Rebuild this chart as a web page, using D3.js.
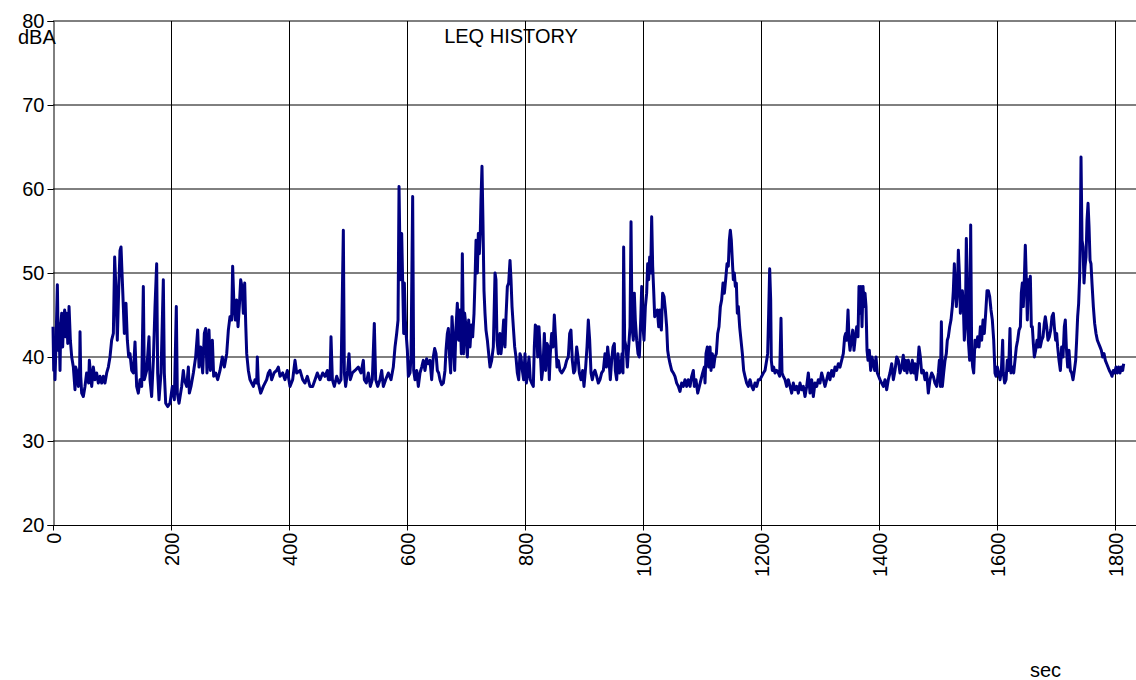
<!DOCTYPE html>
<html>
<head>
<meta charset="utf-8">
<script src="https://cdn.jsdelivr.net/npm/d3@7"></script>
<style>
  html, body { margin: 0; padding: 0; background: #ffffff; }
  svg { display: block; }
  text { font-family: "Liberation Sans", Arial, sans-serif; fill: #000; }
</style>
</head>
<body>
<svg id="chart" width="1136" height="680"></svg>
<script>
// Axis ticks and labels
const yTicks = [20, 30, 40, 50, 60, 70, 80];
const xTicks = [0, 200, 400, 600, 800, 1000, 1200, 1400, 1600, 1800];
const chartTitle = "LEQ HISTORY";
const yUnit = "dBA";
const xUnit = "sec";

// Sound level readings: [time in sec, Leq in dBA]
const leqHistory = [
  [0,43.6],[1.2,38.4],[2.3,42.0],[3.4,37.3],[5.1,41.6],[7.4,48.6],[9.0,40.8],[10.2,44.0],[11.9,38.4],[13.1,43.6],
  [14.7,45.2],[16.4,41.2],[18.1,44.8],[19.8,45.6],[21.4,42.4],[23.2,45.2],[25.0,41.6],[26.6,44.4],[27.2,46.0],[29.4,42.0],
  [31.7,40.0],[34.5,38.8],[37.3,36.1],[38.4,38.8],[40.1,38.4],[42.9,36.5],[45.2,38.8],[45.8,43.0],[47.0,37.7],[48.6,35.7],
  [51.4,35.3],[54.2,36.5],[57.0,38.1],[60.4,36.9],[61.6,39.6],[65.6,36.5],[68.4,38.8],[71.2,37.3],[74.0,38.1],[76.8,36.9],
  [79.7,37.7],[82.5,36.9],[85.3,37.7],[88.1,36.9],[91.0,38.1],[93.8,38.8],[96.6,40.0],[99.4,42.0],[102.3,42.8],[104.5,51.9],
  [106.8,47.9],[109.0,42.0],[111.3,47.9],[113.6,52.7],[115.3,53.1],[117.0,50.0],[119.2,46.0],[120.9,42.8],[123.7,46.4],[126.0,42.0],
  [128.3,40.0],[130.5,40.4],[133.4,38.4],[136.2,38.1],[139.0,41.8],[141.8,36.5],[144.6,35.7],[147.5,37.3],[150.3,36.5],[153.1,48.4],
  [154.8,37.3],[158.8,38.4],[162.7,42.4],[164.4,37.3],[167.2,35.3],[170.1,39.6],[172.9,46.0],[175.7,51.1],[177.4,38.1],[179.7,34.9],
  [183.1,38.1],[187.0,49.2],[188.7,38.1],[191.0,34.5],[194.4,34.1],[198.3,34.5],[202.3,36.5],[205.7,34.9],[209.0,46.0],[210.7,35.7],
  [213.6,34.5],[218.1,36.5],[220.9,38.4],[222.6,37.3],[226.6,36.5],[229.4,38.8],[231.1,35.7],[233.9,36.5],[237.9,38.1],[241.8,40.0],
  [245.2,43.2],[247.5,38.8],[250.3,41.2],[253.7,38.1],[256.5,42.8],[258.8,43.4],[261.0,38.1],[264.4,43.2],[266.7,38.4],[270.1,42.0],
  [272.3,37.7],[275.7,38.1],[279.1,37.3],[283.1,38.4],[287.0,40.0],[290.4,38.8],[294.4,40.4],[297.2,43.2],[300.0,44.8],[302.8,44.4],
  [304.5,50.8],[306.8,46.0],[309.0,44.4],[311.3,46.8],[313.6,43.6],[315.8,46.0],[318.1,49.2],[320.3,48.4],[322.6,45.2],[324.9,48.8],
  [326.6,44.0],[328.3,40.4],[331.1,38.4],[333.9,37.3],[336.7,36.9],[339.6,36.5],[342.4,37.3],[345.2,36.9],[346.3,40.0],[348.0,36.9],
  [352.0,35.7],[356.5,36.5],[362.2,37.3],[365.0,38.1],[367.8,38.4],[370.6,37.3],[374.6,38.1],[379.1,38.4],[381.9,38.8],[384.8,37.7],
  [389.3,38.1],[393.2,37.3],[397.2,38.4],[401.7,36.5],[406.2,37.3],[410.2,39.6],[413.0,38.1],[418.7,38.4],[423.2,37.3],[427.1,36.9],
  [431.1,37.7],[435.6,36.5],[440.1,36.5],[444.1,37.3],[448.0,38.1],[452.6,37.3],[457.1,38.1],[461.0,37.7],[465.0,38.4],[466.7,37.3],
  [469.5,37.3],[471.2,42.4],[473.5,37.3],[476.8,36.5],[480.8,37.7],[484.8,36.9],[488.1,37.3],[492.1,55.1],[493.8,38.1],[496.0,36.5],
  [499.4,38.4],[501.7,40.4],[503.9,37.3],[507.3,38.1],[511.9,38.4],[517.5,38.8],[522.0,38.1],[526.0,39.6],[527.7,37.3],[531.1,36.9],
  [534.5,38.1],[537.9,36.5],[541.2,37.3],[544.6,44.0],[546.9,37.3],[550.3,36.5],[554.2,37.3],[557.1,38.4],[559.9,36.5],[563.8,37.3],
  [568.4,38.1],[572.9,37.3],[576.8,38.8],[579.7,41.2],[582.5,42.8],[584.8,44.4],[586.5,60.3],[588.7,49.2],[591.0,54.7],[592.7,48.8],
  [594.4,42.8],[595.5,48.8],[597.2,44.4],[598.9,42.4],[600.6,40.8],[602.3,37.7],[605.1,38.1],[606.8,40.0],[609.6,59.1],[611.3,38.4],
  [613.6,37.3],[616.4,38.4],[619.2,36.5],[622.0,38.1],[624.9,38.8],[627.7,39.6],[630.5,38.4],[633.3,39.8],[636.2,39.2],[639.0,39.6],
  [641.8,37.3],[644.6,40.0],[646.9,41.0],[649.2,40.4],[651.4,38.4],[653.7,38.1],[655.9,37.3],[658.8,36.7],[661.6,36.9],[664.4,38.4],
  [666.1,40.8],[668.4,42.8],[670.1,43.4],[671.8,40.4],[674.0,38.1],[676.3,44.8],[678.5,42.0],[680.8,38.4],[683.1,43.6],[685.3,46.4],
  [687.6,42.0],[689.8,45.6],[692.1,40.4],[693.8,52.3],[696.0,40.4],[697.7,45.2],[700.0,43.6],[702.3,40.0],[704.5,44.4],[706.8,41.2],
  [709.0,43.8],[711.3,42.4],[713.6,45.2],[715.3,49.2],[717.0,53.9],[719.2,50.0],[720.9,54.7],[722.6,52.3],[724.3,55.1],[725.4,58.7],
  [727.1,62.7],[728.8,55.9],[730.5,47.9],[732.2,45.2],[733.9,43.2],[736.2,42.0],[738.4,40.4],[740.7,38.8],[743.5,39.6],[746.3,41.2],
  [749.2,50.0],[750.8,49.2],[752.5,42.0],[754.8,40.4],[757.6,42.8],[759.3,40.4],[761.6,42.0],[763.8,44.4],[766.1,41.2],[767.8,44.8],
  [770.1,48.4],[772.3,48.8],[774.6,51.5],[776.3,49.2],[778.0,46.0],[780.2,43.6],[782.5,41.2],[784.7,40.0],[787.0,38.1],[789.3,37.3],
  [791.5,40.4],[793.2,40.0],[795.5,38.4],[797.7,37.3],[800.0,40.4],[802.3,36.9],[804.5,38.1],[806.8,40.0],[809.0,37.3],[811.3,36.9],
  [814.1,36.5],[815.8,41.2],[817.5,43.8],[819.8,43.6],[821.5,40.0],[823.7,43.6],[826.0,40.4],[828.2,37.3],[830.5,38.8],[832.8,42.8],
  [835.0,38.4],[837.3,41.6],[839.5,41.2],[841.2,37.3],[842.9,40.4],[845.2,42.8],[847.5,41.2],[849.7,45.0],[852.0,42.0],[854.2,38.8],
  [856.5,39.6],[859.3,38.4],[862.2,38.1],[865.0,38.4],[867.8,38.8],[870.6,39.6],[873.4,40.0],[875.7,42.8],[877.9,43.2],[880.2,39.6],
  [882.5,38.1],[884.7,38.4],[887.6,41.2],[889.8,40.0],[892.1,38.1],[894.9,37.3],[897.7,38.4],[900.0,36.5],[902.8,38.8],[905.1,41.2],
  [907.3,44.4],[909.6,42.0],[911.9,38.1],[914.1,37.3],[916.4,38.1],[918.6,38.4],[921.5,37.7],[924.3,36.9],[927.1,37.3],[929.9,38.1],
  [932.8,38.4],[935.6,40.4],[937.9,38.8],[940.1,41.2],[942.4,39.6],[944.6,37.3],[946.9,39.6],[949.2,41.2],[951.4,41.6],[953.1,38.4],
  [955.4,37.3],[957.6,40.4],[959.9,38.1],[962.2,38.4],[964.4,40.4],[966.1,38.1],[967.2,53.1],[968.9,42.0],[971.2,41.2],[973.5,38.8],
  [975.7,41.2],[978.0,43.6],[979.7,56.1],[981.4,43.6],[983.6,42.0],[985.3,47.6],[987.0,44.4],[989.3,42.0],[991.5,40.4],[993.8,40.0],
  [996.1,44.4],[997.8,48.4],[1000.0,43.6],[1001.7,42.0],[1004.0,46.0],[1006.2,47.6],[1007.9,51.1],[1009.6,49.2],[1011.3,51.9],[1013.0,50.0],
  [1014.7,56.7],[1016.4,50.8],[1018.1,47.9],[1019.8,44.8],[1022.0,45.2],[1024.3,45.6],[1026.6,43.6],[1028.8,45.6],[1031.1,43.2],[1033.3,47.6],
  [1035.6,47.2],[1037.9,45.6],[1040.1,43.6],[1041.8,40.8],[1043.5,40.0],[1045.8,39.2],[1048.6,38.4],[1051.4,38.1],[1054.2,37.7],[1057.1,36.9],
  [1059.9,36.5],[1062.7,35.9],[1065.5,36.9],[1068.4,36.5],[1071.2,37.3],[1074.0,36.5],[1076.8,37.3],[1079.7,36.5],[1082.5,37.7],[1085.3,38.4],
  [1087.0,36.5],[1089.8,37.3],[1092.7,35.7],[1095.5,36.5],[1098.3,37.3],[1101.1,38.1],[1103.9,38.8],[1105.1,36.9],[1106.8,40.4],[1109.0,41.2],
  [1111.3,38.8],[1113.6,41.2],[1115.3,38.4],[1117.5,40.4],[1119.8,38.8],[1122.0,40.0],[1124.3,40.4],[1126.6,42.8],[1128.8,43.6],[1131.1,46.0],
  [1133.3,46.8],[1135.6,48.8],[1137.9,47.6],[1140.1,49.2],[1142.4,51.1],[1144.6,50.8],[1146.3,53.9],[1148.0,55.1],[1149.7,53.9],[1151.4,51.5],
  [1153.1,49.2],[1154.8,50.0],[1156.5,48.4],[1158.2,48.8],[1159.9,45.2],[1161.6,46.0],[1163.8,43.6],[1166.1,42.0],[1168.4,40.4],[1170.6,38.4],
  [1172.9,37.7],[1175.7,36.9],[1178.5,36.5],[1181.4,37.3],[1184.2,36.5],[1187.0,36.1],[1189.8,36.9],[1192.7,36.5],[1195.5,37.3],[1198.3,37.3],
  [1201.1,37.7],[1204.0,38.1],[1206.8,38.4],[1209.6,39.6],[1211.3,40.4],[1213.0,45.2],[1214.7,50.5],[1216.4,46.8],[1217.5,39.6],[1219.2,38.4],
  [1221.5,38.8],[1223.7,38.1],[1226.6,38.4],[1229.4,38.1],[1231.6,37.7],[1233.9,44.6],[1235.6,38.1],[1237.9,37.7],[1240.7,37.3],[1243.5,36.5],
  [1246.3,37.3],[1249.2,36.5],[1252.0,35.7],[1254.8,36.9],[1257.6,36.1],[1260.5,36.5],[1263.3,35.7],[1266.1,36.9],[1268.9,36.1],[1271.8,36.5],
  [1274.6,35.3],[1277.4,36.5],[1280.2,38.1],[1283.1,35.7],[1285.9,37.3],[1288.7,35.3],[1291.5,36.9],[1294.4,36.5],[1297.2,37.3],[1300.0,36.9],
  [1302.8,38.1],[1305.7,37.3],[1308.5,36.5],[1311.3,37.3],[1314.1,38.1],[1316.9,37.3],[1319.8,38.4],[1322.6,37.7],[1325.4,38.8],[1328.2,38.4],
  [1331.1,39.2],[1333.9,38.8],[1336.7,39.6],[1339.5,40.4],[1341.8,42.4],[1343.5,42.8],[1345.2,42.0],[1347.5,45.6],[1349.2,42.0],[1350.9,40.8],
  [1353.1,42.0],[1355.4,43.2],[1357.6,40.8],[1359.9,42.4],[1362.2,43.6],[1364.4,42.4],[1366.1,48.4],[1367.8,45.2],[1369.5,48.4],[1371.2,43.6],
  [1372.9,48.4],[1374.6,46.0],[1376.3,47.6],[1378.0,46.0],[1379.7,40.8],[1381.4,39.6],[1383.6,40.8],[1385.9,38.4],[1388.1,40.0],[1390.4,39.2],
  [1392.7,38.4],[1394.9,40.0],[1397.2,38.1],[1399.4,37.7],[1401.7,37.3],[1404.5,36.9],[1407.4,36.5],[1410.2,37.3],[1413.0,36.1],[1415.8,37.3],
  [1418.6,38.1],[1421.5,39.2],[1424.3,37.3],[1427.1,38.4],[1430.0,40.0],[1432.8,39.6],[1435.6,38.1],[1438.4,38.8],[1441.2,40.2],[1442.9,38.4],
  [1445.2,39.6],[1447.5,38.1],[1449.7,39.6],[1452.0,38.8],[1454.2,38.1],[1456.5,39.6],[1458.8,38.1],[1461.0,39.2],[1463.3,37.3],[1465.5,38.8],
  [1467.8,41.2],[1470.1,40.0],[1472.3,38.1],[1475.2,38.4],[1478.0,37.3],[1480.8,38.1],[1483.6,35.7],[1486.4,37.3],[1489.3,38.1],[1492.1,37.7],
  [1494.9,36.9],[1497.7,36.5],[1500.6,38.1],[1502.3,39.6],[1504.0,36.5],[1505.7,44.2],[1507.4,36.5],[1509.6,38.1],[1511.9,39.6],[1514.1,40.4],
  [1515.8,42.0],[1517.5,42.4],[1519.8,43.6],[1522.0,44.4],[1524.3,46.0],[1526.0,47.9],[1527.7,51.1],[1529.4,47.9],[1531.1,46.0],[1532.8,47.9],
  [1534.5,52.7],[1536.2,50.0],[1537.9,45.2],[1539.6,46.8],[1541.3,47.9],[1543.0,46.0],[1544.6,42.0],[1546.3,43.6],[1548.0,54.1],[1549.7,49.2],
  [1551.4,42.0],[1553.7,39.6],[1555.4,55.7],[1557.1,40.4],[1558.8,38.8],[1560.5,38.1],[1562.7,42.0],[1565.0,41.2],[1567.2,42.4],[1569.5,41.2],
  [1571.8,43.6],[1574.0,42.0],[1576.3,44.4],[1578.5,42.8],[1580.8,45.2],[1583.1,47.9],[1585.3,47.9],[1587.6,47.2],[1589.8,45.6],[1592.1,44.4],
  [1594.4,42.0],[1596.6,38.1],[1598.3,37.7],[1600.6,38.8],[1602.8,38.1],[1605.1,37.3],[1607.4,38.4],[1609.6,42.0],[1610.7,38.1],[1613.0,36.9],
  [1615.3,37.3],[1617.5,39.6],[1619.8,38.4],[1622.0,43.4],[1623.7,38.1],[1626.0,38.8],[1628.3,38.1],[1630.5,39.6],[1632.8,41.2],[1635.0,42.0],
  [1637.3,43.2],[1639.6,43.6],[1641.2,47.6],[1642.9,48.8],[1644.6,46.0],[1646.3,49.2],[1648.0,53.3],[1649.7,49.2],[1651.4,44.4],[1653.1,49.2],
  [1654.8,48.4],[1656.5,49.6],[1658.2,43.6],[1659.9,43.6],[1661.6,41.6],[1663.3,40.0],[1665.5,40.8],[1667.8,42.0],[1670.1,41.2],[1671.8,44.0],
  [1673.4,41.2],[1675.7,42.0],[1678.0,42.4],[1680.2,44.0],[1681.9,44.8],[1684.2,43.6],[1686.4,42.0],[1688.7,42.4],[1691.0,43.2],[1693.2,44.8],
  [1695.5,45.2],[1697.2,43.6],[1699.4,42.0],[1701.1,42.8],[1702.8,41.2],[1705.1,39.6],[1707.4,38.4],[1709.6,41.2],[1711.9,40.0],[1714.1,43.6],
  [1715.8,44.4],[1717.5,41.2],[1719.8,38.8],[1722.0,40.8],[1724.3,38.4],[1726.6,38.1],[1728.8,37.3],[1731.1,38.4],[1733.3,39.6],[1735.0,42.0],
  [1736.7,44.8],[1738.4,46.4],[1740.1,49.6],[1741.2,54.3],[1742.4,63.8],[1744.1,53.9],[1745.8,53.1],[1747.5,48.8],[1749.2,50.8],[1750.9,51.9],
  [1752.6,56.3],[1754.3,58.3],[1756.0,55.5],[1757.7,51.5],[1759.3,51.1],[1761.0,48.8],[1763.3,46.0],[1765.5,44.0],[1767.8,42.8],[1770.1,42.0],
  [1772.3,41.6],[1774.6,41.2],[1776.8,40.8],[1779.1,40.0],[1781.4,40.4],[1783.6,39.6],[1785.9,39.2],[1788.1,38.8],[1790.4,38.4],[1792.7,38.1],
  [1794.9,37.7],[1797.2,38.4],[1799.4,38.1],[1801.7,38.8],[1803.9,38.1],[1806.2,38.8],[1808.5,38.1],[1810.7,38.8],[1813.0,38.4],[1814.7,39.2]
];

const svg = d3.select("#chart");
const width = 1136, height = 680;

// Plot area: 0–1800 s spans x 53–1115, 20–80 dBA spans y 525–21
const x = d3.scaleLinear().domain([0, 1800]).range([53, 1115]);
const y = d3.scaleLinear().domain([20, 80]).range([525, 21]);
const plotRight = width;

// Horizontal gridlines
svg.append("g")
  .selectAll("line")
  .data(yTicks.filter(d => d > 20))
  .join("line")
  .attr("x1", x(0)).attr("x2", plotRight)
  .attr("y1", d => y(d)).attr("y2", d => y(d))
  .attr("stroke", "#000").attr("stroke-width", 1);

// Vertical gridlines
svg.append("g")
  .selectAll("line")
  .data(xTicks.filter(d => d > 0))
  .join("line")
  .attr("x1", d => x(d) + 0.5).attr("x2", d => x(d) + 0.5)
  .attr("y1", y(80)).attr("y2", y(20))
  .attr("stroke", "#000").attr("stroke-width", 1);

// Y axis
const yAxis = d3.axisLeft(y).tickValues(yTicks).tickSize(6).tickPadding(3);
const gy = svg.append("g").attr("transform", `translate(${x(0) + 0.5},0)`).call(yAxis);
gy.select(".domain").attr("stroke", "#000");
gy.selectAll(".tick line").attr("stroke", "#000");
gy.selectAll(".tick text")
  .attr("font-family", "Liberation Sans, Arial, sans-serif")
  .attr("font-size", 20)
  .attr("fill", "#000");

// X axis (rotated labels, plain integers)
const xAxis = d3.axisBottom(x).tickValues(xTicks).tickFormat(d3.format("d")).tickSize(5).tickPadding(4);
const gx = svg.append("g").attr("transform", `translate(0,${y(20) + 0.5})`).call(xAxis);
gx.select(".domain").attr("d", `M${x(0)},0H${plotRight}`).attr("stroke", "#000");
gx.selectAll(".tick line").attr("stroke", "#000");
gx.selectAll(".tick text")
  .attr("font-family", "Liberation Sans, Arial, sans-serif")
  .attr("font-size", 20)
  .attr("fill", "#000")
  .attr("transform", "rotate(-90)")
  .attr("text-anchor", "end")
  .attr("x", -7)
  .attr("y", 0)
  .attr("dy", "0.35em");

// Leq trace
const line = d3.line()
  .x(d => x(d[0]))
  .y(d => y(d[1]));

svg.append("path")
  .datum(leqHistory)
  .attr("fill", "none")
  .attr("stroke", "#000080")
  .attr("stroke-width", 3)
  .attr("stroke-linejoin", "round")
  .attr("d", line);

// Titles
svg.append("text")
  .attr("x", 511).attr("y", 43)
  .attr("text-anchor", "middle")
  .attr("font-size", 20)
  .text(chartTitle);

svg.append("text")
  .attr("x", 18).attr("y", 44)
  .attr("font-size", 20)
  .text(yUnit);

svg.append("text")
  .attr("x", 1030).attr("y", 677)
  .attr("font-size", 20)
  .text(xUnit);
</script>
</body>
</html>
